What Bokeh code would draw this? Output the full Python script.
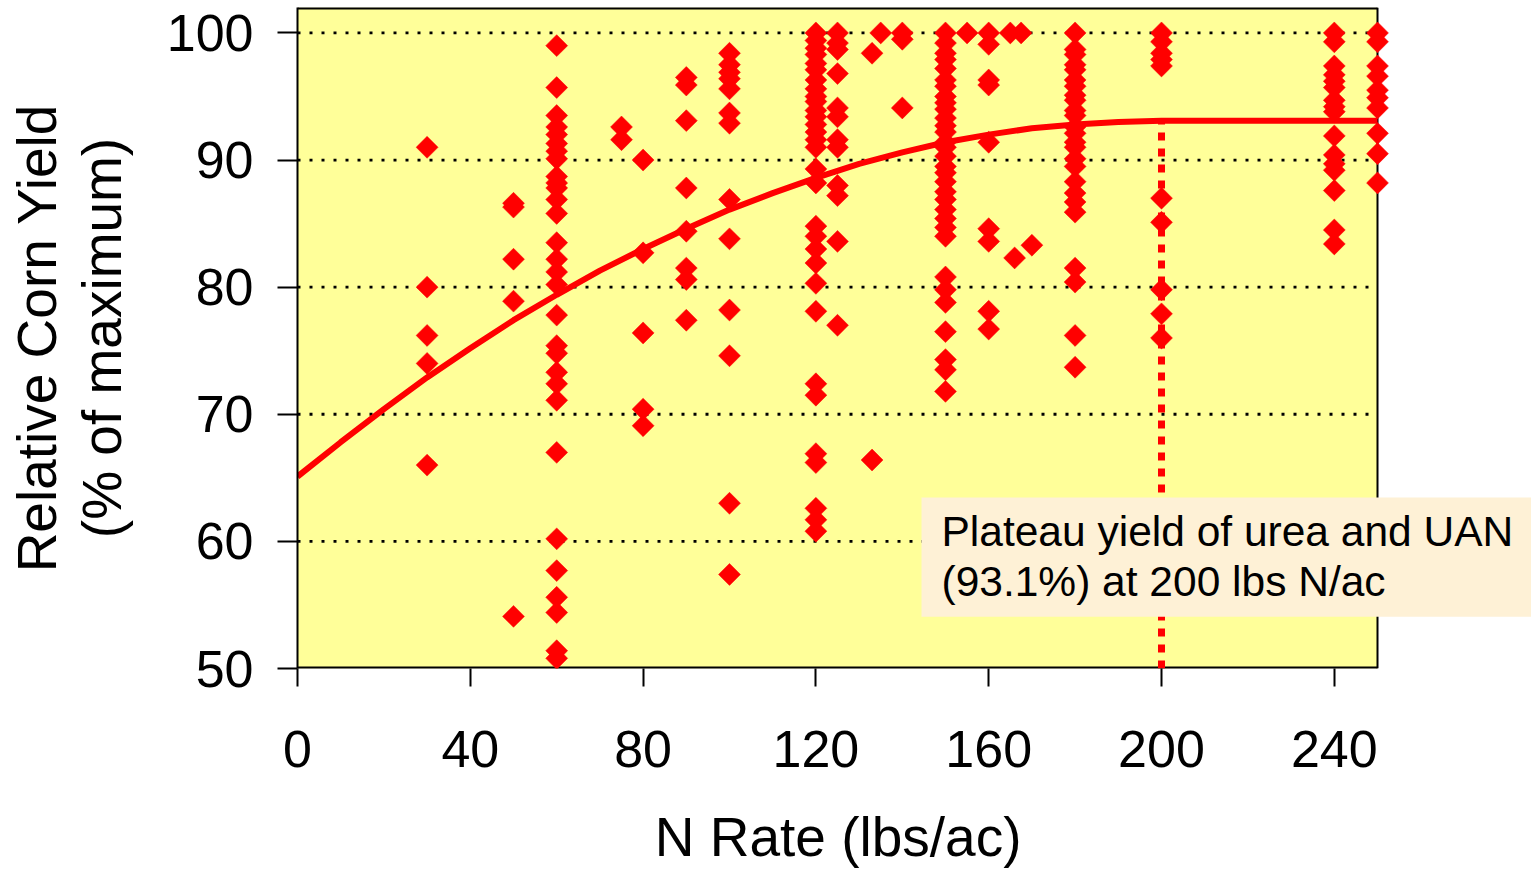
import math
from bokeh.plotting import figure
from bokeh.models import Label, Range1d, FixedTicker
from bokeh.embed import file_html
from bokeh.resources import INLINE

# ---- data ----
yld_030 = [91.0, 80.0, 76.2, 74.0, 66.0]
yld_050 = [86.6, 86.3, 82.2, 78.9, 54.1]
yld_060 = [99.0, 95.7, 93.5, 92.6, 92.0, 91.3, 90.7, 90.1, 88.7, 88.2, 87.8, 86.9, 85.8,
           83.5, 82.2, 81.2, 80.2, 77.8, 75.4, 74.8, 73.3, 72.4, 71.1, 67.0, 60.2, 57.7,
           55.6, 54.4, 51.4, 50.8]
yld_075 = [92.6, 91.6]
yld_080 = [90.0, 82.7, 76.4, 70.4, 69.1]
yld_090 = [96.5, 95.9, 93.1, 87.8, 84.4, 81.5, 80.6, 77.4]
yld_100 = [98.4, 97.5, 96.9, 96.4, 95.6, 93.7, 92.9, 86.9, 83.8, 78.2, 74.6, 63.0, 57.4]
yld_120 = [100.0, 99.4, 98.8, 98.3, 97.6, 97.1, 96.3, 95.6, 95.0, 94.6, 93.9, 93.4, 92.8,
           92.2, 91.6, 91.0, 89.3, 88.2, 84.8, 84.0, 83.0, 81.9, 80.3, 78.1, 72.4, 71.5,
           66.9, 66.2, 62.6, 61.7, 60.8]
yld_125 = [100.0, 99.2, 98.7, 96.8, 94.1, 93.4, 91.6, 91.0, 88.0, 87.2, 83.6, 77.0]
yld_133 = [98.4, 66.4]
yld_135 = [100.0]
yld_140 = [100.0, 99.5, 94.1]
yld_150 = [100.0, 99.2, 98.4, 97.9, 97.2, 96.3, 95.8, 95.0, 94.5, 94.0, 93.3, 92.7, 92.2,
           91.4, 91.0, 90.3, 89.5, 89.0, 88.3, 87.5, 86.9, 86.1, 85.4, 84.7, 84.0, 80.8,
           79.8, 78.8, 76.5, 74.3, 73.5, 71.8]
yld_155 = [100.0]
yld_160 = [100.0, 99.1, 96.3, 95.9, 91.4, 84.6, 83.6, 78.1, 76.7]
yld_165 = [100.0]
yld_166 = [82.3]
yld_168 = [100.0]
yld_170 = [83.3]
yld_180 = [100.0, 98.7, 98.3, 97.5, 97.1, 96.3, 95.8, 95.1, 94.7, 93.9, 93.5, 92.6, 92.1,
           91.4, 91.0, 90.1, 89.5, 88.3, 87.4, 86.7, 85.9, 81.5, 80.4, 76.2, 73.7]
yld_200 = [100.0, 99.3, 98.4, 97.9, 97.4, 87.0, 85.1, 79.8, 77.9, 76.0]
yld_240 = [100.0, 99.3, 97.4, 96.7, 96.2, 95.7, 94.7, 94.2, 93.8, 91.9, 90.4, 89.7, 89.2,
           87.6, 84.5, 83.4]
yld_250 = [100.0, 99.3, 97.4, 96.6, 95.5, 94.9, 94.1, 92.1, 90.5, 88.2]

rate_groups = [(30, yld_030), (50, yld_050), (60, yld_060), (75, yld_075), (80, yld_080),
               (90, yld_090), (100, yld_100), (120, yld_120), (125, yld_125), (133, yld_133),
               (135, yld_135), (140, yld_140), (150, yld_150), (155, yld_155), (160, yld_160),
               (165, yld_165), (166, yld_166), (167.5, yld_168), (170, yld_170),
               (180, yld_180), (200, yld_200), (240, yld_240), (250, yld_250)]

# fitted quadratic-plateau curve
curve_x = [0, 10, 20, 30, 40, 50, 60, 70, 80, 90, 100, 110, 120, 130, 140, 150, 160, 170,
           180, 190, 200, 250]
curve_y = [65.1, 67.8, 70.4, 72.9, 75.2, 77.4, 79.4, 81.3, 83.0, 84.6, 86.1, 87.4, 88.6,
           89.7, 90.6, 91.4, 92.0, 92.5, 92.8, 93.0, 93.1, 93.1]

plateau_rate = 200
plateau_yield = 93.1

x_ticks = [0, 40, 80, 120, 160, 200, 240]
y_ticks = [50, 60, 70, 80, 90, 100]
x_min, x_max = 0, 250
y_min, y_max = 50, 102

xs, ys = [], []
for r, vals in rate_groups:
    xs += [r] * len(vals)
    ys += vals

FONT = "Liberation Sans"
W, H = 1531, 870
FRAME_L, FRAME_R, FRAME_T, FRAME_B = 297, 1377, 7, 668
px_per_unit = (FRAME_R - FRAME_L) / (x_max - x_min)
x_view_end = x_min + (W - FRAME_L) / px_per_unit   # frame runs to the canvas edge

p = figure(width=W, height=H, output_backend="svg", toolbar_location=None,
           x_range=Range1d(x_min, x_view_end), y_range=Range1d(y_min, y_max),
           min_border_left=FRAME_L, min_border_right=0, min_border_top=FRAME_T,
           min_border_bottom=H - FRAME_B, background_fill_color="white",
           border_fill_color="white")
p.outline_line_color = None
p.grid.visible = False

# plot area (yellow) and its border
p.quad(left=[x_min], right=[x_max], bottom=[y_min], top=[y_max],
       fill_color="#FFFF99", line_color=None)
gy = y_ticks[1:]
p.segment(x0=[x_min] * len(gy), y0=gy, x1=[x_max] * len(gy), y1=gy,
          line_color="black", line_width=2.8, line_dash="3 9")
p.segment(x0=[x_min, x_min], y0=[y_min, y_max], x1=[x_max, x_max], y1=[y_min, y_max],
          line_color="black", line_width=4)
p.segment(x0=[x_max], y0=[y_min], x1=[x_max], y1=[y_max],
          line_color="black", line_width=2)

# axes
p.xaxis.ticker = FixedTicker(ticks=x_ticks)
p.yaxis.ticker = FixedTicker(ticks=y_ticks)
for ax in (p.xaxis[0], p.yaxis[0]):
    ax.minor_tick_line_color = None
    ax.major_tick_in = 0
    ax.axis_line_color = "black"
    ax.axis_line_width = 2
    ax.major_tick_line_color = "black"
    ax.major_tick_line_width = 2
    ax.major_label_text_font = FONT
    ax.major_label_text_font_size = "52px"
    ax.major_label_text_color = "black"
    ax.axis_label_text_font = FONT
    ax.axis_label_text_font_size = "55px"
    ax.axis_label_text_font_style = "normal"
    ax.axis_label_text_color = "black"
p.xaxis.axis_line_color = None
p.xaxis.major_tick_out = 18
p.yaxis.major_tick_out = 20
p.xaxis.major_label_standoff = 44
p.yaxis.major_label_standoff = 24
p.yaxis.axis_label = "Relative Corn Yield\n(% of maximum)"
p.yaxis.axis_label_standoff = 31
p.yaxis.axis_label_text_line_height = 1.05

# x-axis label: the frame runs past the yellow area to the canvas edge, so
# non-breaking spaces keep the label centred under the yellow plot area
x_title = "N Rate (lbs/ac)"
pad = "\u00a0" * 10
p.xaxis.axis_label = x_title + pad
p.xaxis.axis_label_standoff = 36

# points
p.scatter(xs, ys, marker="square", angle=math.pi / 4, size=15.5,
          fill_color="#FF0000", line_color="#FF0000", line_width=0.5)

# curve + plateau
p.line(curve_x, curve_y, line_color="#FF0000", line_width=6)
p.segment(x0=[plateau_rate], y0=[y_min], x1=[plateau_rate], y1=[plateau_yield],
          line_color="#FF0000", line_width=7, line_dash="8 8")

# annotation box
p.add_layout(Label(x=921 - FRAME_L, y=FRAME_B - 497, x_units="screen", y_units="screen",
                   text="Plateau yield of urea and UAN\n(93.1%) at 200 lbs N/ac",
                   text_font=FONT, text_font_size="42.5px", text_color="black",
                   text_align="left", text_baseline="top", text_line_height=1.07,
                   background_fill_color="#FEF1D6", padding=(20, 22, 10, 12)))

open("out.html", "w").write(file_html(p, INLINE))
